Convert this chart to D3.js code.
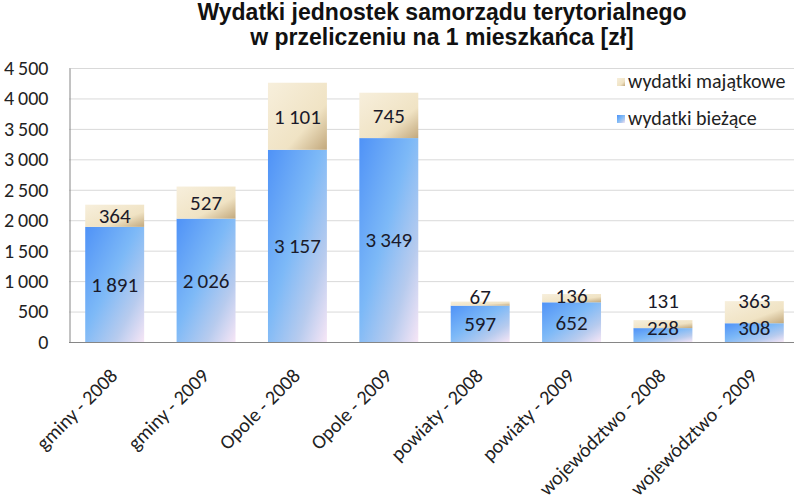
<!DOCTYPE html>
<html>
<head>
<meta charset="utf-8">
<script src="https://cdn.jsdelivr.net/npm/d3@7"></script>
<style>
  body { margin: 0; background: #fff; }
  svg { display: block; }
</style>
</head>
<body>
<div class="chart"></div>
<script>
const categories = ["gminy - 2008", "gminy - 2009", "Opole - 2008", "Opole - 2009",
                    "powiaty - 2008", "powiaty - 2009", "województwo - 2008", "województwo - 2009"];
const biezace = [1891, 2026, 3157, 3349, 597, 652, 228, 308];
const majatkowe = [364, 527, 1101, 745, 67, 136, 131, 363];
const yTicks = [0, 500, 1000, 1500, 2000, 2500, 3000, 3500, 4000, 4500];
const legendNames = ["wydatki majątkowe", "wydatki bieżące"];
const titleLines = ["Wydatki jednostek samorządu terytorialnego", "w przeliczeniu na 1 mieszkańca [zł]"];

const width = 794, height = 498;
const margin = ({top: 68, right: -6, bottom: 156, left: 69});
const plotBottom = height - margin.bottom;
const labelFont = "Carlito, Calibri, Lato, sans-serif";

const fmt = d3.formatLocale({decimal: ",", thousands: "\u2009", grouping: [3], currency: ["", " zł"]}).format(",d");

const svg = d3.select(".chart").append("svg")
    .attr("width", width)
    .attr("height", height);

// gradients
const defs = svg.append("defs");
function grad(id, stops) {
    const g = defs.append("linearGradient").attr("id", id)
        .attr("x1", 0).attr("y1", 0).attr("x2", 1).attr("y2", 1);
    stops.forEach(s => g.append("stop").attr("offset", s[0]).attr("stop-color", s[1]));
}
grad("gBlue", [[0, "#4f92f7"], [0.45, "#7db9f7"], [0.75, "#b7cbee"], [1, "#f7e6f6"]]);
grad("gBeige", [[0, "#f7efdc"], [0.65, "#f0e3c4"], [1, "#c2a87c"]]);

const xScale = d3.scaleBand()
    .domain(categories)
    .range([margin.left, width - margin.right])
    .paddingInner(0.355)
    .paddingOuter(0.1775);
const yScale = d3.scaleLinear()
    .domain([0, 4500])
    .range([plotBottom, margin.top]);

// grid
svg.append("g")
    .selectAll("line")
    .data(yTicks.filter(d => d > 0))
    .enter()
    .append("line")
    .attr("x1", margin.left)
    .attr("x2", width)
    .attr("y1", d => yScale(d) + 0.5)
    .attr("y2", d => yScale(d) + 0.5)
    .attr("stroke", "#d9d9d9");

// bars
const stacked = categories.map((c, i) => ({cat: c, b: biezace[i], m: majatkowe[i]}));
const bars = svg.append("g").selectAll("g").data(stacked).enter().append("g");
bars.append("rect")
    .attr("x", d => xScale(d.cat))
    .attr("width", xScale.bandwidth())
    .attr("y", d => yScale(d.b))
    .attr("height", d => yScale(0) - yScale(d.b))
    .attr("fill", "url(#gBlue)");
bars.append("rect")
    .attr("x", d => xScale(d.cat))
    .attr("width", xScale.bandwidth())
    .attr("y", d => yScale(d.b + d.m))
    .attr("height", d => yScale(d.b) - yScale(d.b + d.m))
    .attr("fill", "url(#gBeige)");

// data labels, pushed up when they would collide
function lowY(d) { return Math.min(yScale(d.b / 2), plotBottom - 14); }
function highY(d) { return Math.min(yScale(d.b + d.m / 2), lowY(d) - 27); }
bars.append("text")
    .attr("x", d => xScale(d.cat) + xScale.bandwidth() / 2)
    .attr("y", d => lowY(d))
    .attr("dy", "0.35em")
    .attr("text-anchor", "middle")
    .attr("font-family", labelFont)
    .attr("font-size", 21)
    .attr("fill", "#1a1a2a")
    .text(d => fmt(d.b));
bars.append("text")
    .attr("x", d => xScale(d.cat) + xScale.bandwidth() / 2)
    .attr("y", d => highY(d))
    .attr("dy", "0.35em")
    .attr("text-anchor", "middle")
    .attr("font-family", labelFont)
    .attr("font-size", 21)
    .attr("fill", "#1a1a2a")
    .text(d => fmt(d.m));

// axes
const yAxis = d3.axisLeft(yScale)
    .tickValues(yTicks)
    .tickSize(0)
    .tickPadding(21)
    .tickFormat(fmt);
svg.append("g")
    .attr("class", "axis y-axis")
    .attr("transform", `translate(${margin.left + 0.5},0)`)
    .call(yAxis)
    .call(g => g.select(".domain").attr("stroke", "#868686"))
    .call(g => g.selectAll("text")
        .attr("font-family", labelFont)
        .attr("font-size", 20)
        .attr("fill", "#222"));

svg.append("line")
    .attr("x1", margin.left)
    .attr("x2", width)
    .attr("y1", plotBottom + 0.5)
    .attr("y2", plotBottom + 0.5)
    .attr("stroke", "#868686");

svg.append("g")
    .selectAll("text")
    .data(categories)
    .enter()
    .append("text")
    .attr("transform", d => `translate(${xScale(d) + xScale.bandwidth() / 2 + 4},377)rotate(-45)`)
    .attr("text-anchor", "end")
    .attr("font-family", labelFont)
    .attr("font-size", 20)
    .attr("fill", "#222")
    .text(d => d);

// title
svg.append("g")
    .selectAll("text")
    .data(titleLines)
    .enter()
    .append("text")
    .attr("x", 442)
    .attr("y", (_, i) => 19.5 + 25 * i)
    .attr("text-anchor", "middle")
    .attr("font-family", "'Liberation Sans Narrow', 'Arial Narrow', 'Liberation Sans', sans-serif")
    .attr("font-weight", "bold")
    .attr("font-size", 23)
    .attr("fill", "#111")
    .text(d => d);

// legend
const legendFills = ["url(#gBeige)", "url(#gBlue)"];
const legend = svg.append("g").selectAll("g")
    .data(legendNames)
    .enter()
    .append("g")
    .attr("transform", (_, i) => `translate(617,${81 + 37 * i})`);
legend.append("rect")
    .attr("x", 0)
    .attr("y", -3)
    .attr("width", 8)
    .attr("height", 8)
    .attr("fill", (_, i) => legendFills[i]);
legend.append("text")
    .attr("x", 11)
    .attr("dy", "0.35em")
    .attr("font-family", labelFont)
    .attr("font-size", 20)
    .attr("fill", "#222")
    .text(d => d);
</script>
</body>
</html>
